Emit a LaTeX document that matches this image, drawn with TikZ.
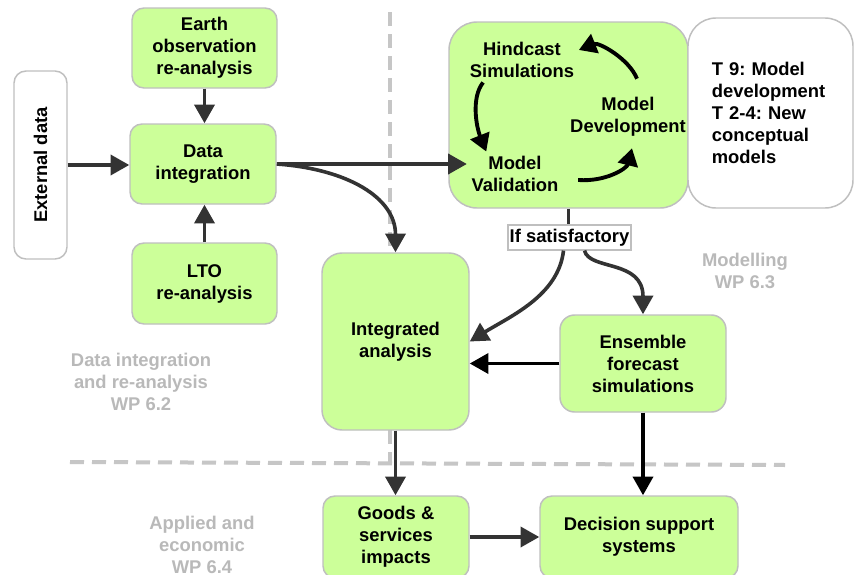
\documentclass[tikz,border=0pt]{standalone}
\usepackage{fontspec}
\setmainfont{Liberation Sans}
\usepackage{graphicx}
\usepackage{xcolor}
\usetikzlibrary{arrows.meta, calc}
\frenchspacing

\begin{document}
\begin{tikzpicture}[x=0.75pt,y=0.75pt,yscale=-1,xscale=1,
  every node/.style={font=\fontsize{13.8}{16.5}\selectfont\bfseries, align=center},
  greenbox/.style={draw=gray!50, line width=1.1pt, fill={rgb,255:red,204;green,255;blue,153}, rounded corners=9pt, inner sep=0pt},
  whitebox/.style={draw=gray!50, line width=1.1pt, fill=white, rounded corners=9pt, inner sep=0pt},
  wplabel/.style={text=gray!55},
  flow/.style={draw=black!80, line width=2.7pt, -{Triangle[length=14pt,width=15pt]}},
  loopflow/.style={draw=black, line width=2.9pt, -{Triangle[length=13pt,width=15pt]}},
  divider/.style={draw=gray!45, line width=3pt, dash pattern=on 10.5pt off 6pt}
]
\fill[white] (0,0) rectangle (854,575);
\useasboundingbox (0,0) rectangle (854,575);

%Dashed Lines
\draw[divider] (390,12) -- (390,463);
\draw[divider] (70,462) -- (785,465);

%Shapes
\node[whitebox, minimum width=39.75pt, minimum height=141pt] (ext) at (40.5,165) {\rotatebox{90}{External data}};
\node[greenbox, minimum width=108.75pt, minimum height=60pt] (earth) at (204.5,48) {Earth\\observation\\re-analysis};
\node[greenbox, minimum width=109.5pt, minimum height=60pt] (data) at (203,164) {Data\\integration};
\node[greenbox, minimum width=108.75pt, minimum height=60.75pt] (lto) at (204.5,283.5) {LTO\\re-analysis};
\node[greenbox, rounded corners=21pt, minimum width=179.25pt, minimum height=139.5pt] (model) at (568.5,115) {};
\node[whitebox, rounded corners=21pt, minimum width=123.75pt, minimum height=142.5pt, text width=88pt, align=left] (task) at (770.5,113) {T 9: Model\\development\\T 2-4: New\\conceptual\\models};
\node[greenbox, rounded corners=15pt, minimum width=110.25pt, minimum height=132.75pt] (integ) at (395.5,341.5) {Integrated\\analysis};
\node[greenbox, rounded corners=11pt, minimum width=124.5pt, minimum height=72.75pt] (ens) at (643,363.5) {Ensemble\\forecast\\simulations};
\node[greenbox, minimum width=109.5pt, minimum height=61.5pt] (goods) at (396,537) {Goods \&\\services\\impacts};
\node[greenbox, minimum width=148.5pt, minimum height=61.5pt] (dec) at (639,537) {Decision support\\systems};

% Text Node
\node (hind) at (522,60) {Hindcast\\Simulations};
\node (dev) at (628,117) {Model\\Development};
\node (val) at (515,174) {Model\\Validation};
\node[draw=gray!50, fill=white, line width=0.9pt, minimum width=92.25pt, minimum height=18.75pt, inner sep=0pt] (sat) at (569.5,237.5) {If satisfactory};
\node[wplabel] (wpmod) at (745,271) {Modelling\\WP 6.3};
\node[wplabel] (wpdata) at (141,382) {Data integration\\and re-analysis\\WP 6.2};
\node[wplabel] (wpapp) at (202,545) {Applied and\\economic\\WP 6.4};

%Straight Lines
\draw[flow] (ext.east) -- (ext.east -| data.west);
\draw[flow] (earth.south) -- (earth.south |- data.north);
\draw[flow] (lto.north) -- (lto.north |- data.south);
\draw[flow] (data.east) -- (data.east -| val.west);
\draw[black!80, line width=2.7pt] (model.south) -- (model.south |- sat.north);
\draw[flow, draw=black] (ens.west) -- (ens.west -| integ.east);
\draw[flow, draw=black] (ens.south) -- (ens.south |- dec.north);
\draw[flow] (integ.south) -- (integ.south |- goods.north);
\draw[flow] (goods.east) -- (goods.east -| dec.west);

%Curves
\draw[flow] (data.east) .. controls +(70,5) and +(0,-55) .. (integ.north);
\draw[flow] ($(sat.south)+(-6,0)$) .. controls +(-5,45) and +(40,-25) .. (integ.east);
\draw[flow] ($(sat.south)+(15,0)$) .. controls +(5,20) and +(0,-55) .. (ens.north);
\draw[loopflow] (hind.210) .. controls +(-12,15) and +(-10,-25) .. (val.142);
\draw[loopflow] ($(dev.north)+(9,-14)$) .. controls +(-8,-20) and +(20,-8) .. (hind.10);
\draw[loopflow] ($(val.east)+(15,6)$) .. controls +(28,2) and +(-5,20) .. ($(dev.south)+(4,7)$);

\end{tikzpicture}
\end{document}
